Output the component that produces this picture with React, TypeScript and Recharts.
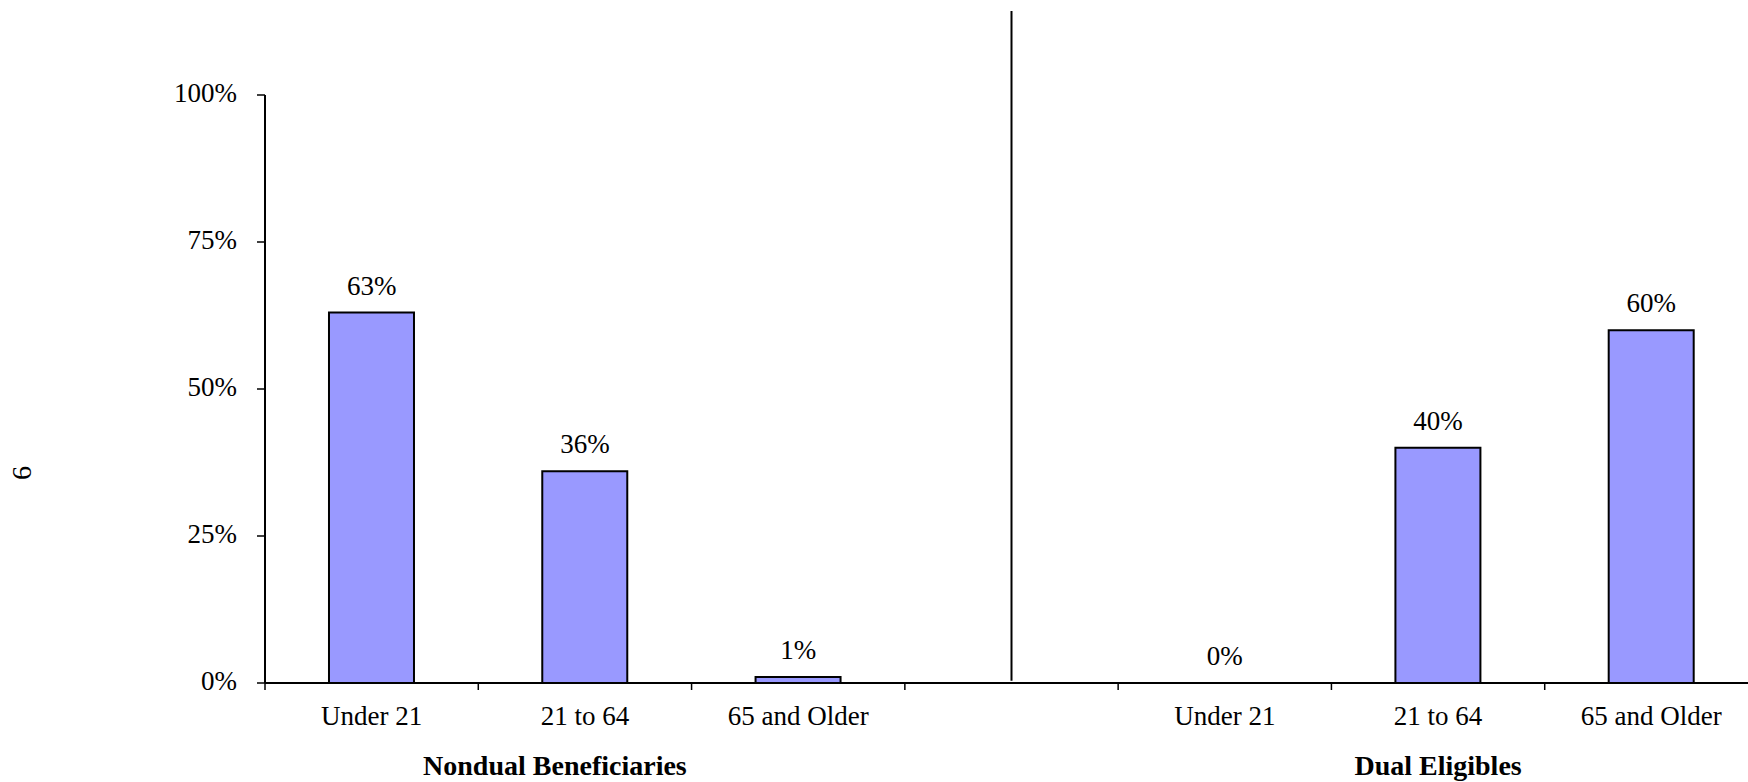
import React from "react";
import { ComposedChart, Bar, Line, XAxis, YAxis, LabelList, ReferenceLine } from "recharts";

const categoryIds = ["nd_u21", "nd_21_64", "nd_65", "gap", "de_u21", "de_21_64", "de_65"];
const categoryLabels = ["Under 21", "21 to 64", "65 and Older", "", "Under 21", "21 to 64", "65 and Older"];
const shareValues: (number | null)[] = [0.63, 0.36, 0.01, null, 0.0, 0.4, 0.6];
const yTicks = [0, 0.25, 0.5, 0.75, 1];
const groupLabelAt = ["nd_21_64", "de_21_64"];
const groupLabelText = ["Nondual Beneficiaries", "Dual Eligibles"];
const groupLabelShift = [-30, 0];
const dividerCategory = "gap";
const dividerTop = 1.143;
const dividerBottom = 0.004;
const pageNumber = "6";

const data = categoryIds.map((id, i) => ({ id, share: shareValues[i] }));

const FONT = "Liberation Serif";
const TICK_SIZE = 7;
const pct = (v: number) => `${Math.round(v * 100)}%`;

const XTick = (props: any) => {
  const { x, y, payload } = props;
  const idx = categoryIds.indexOf(payload.value);
  const half = payload.offset ?? 0;
  const g = groupLabelAt.indexOf(payload.value);
  return (
    <g>
      <line x1={x - half} x2={x - half} y1={y - TICK_SIZE} y2={y} stroke="#000" strokeWidth={1.5} />
      <text x={x} y={y + 35} textAnchor="middle" fontFamily={FONT} fontSize={27} fill="#000">
        {categoryLabels[idx]}
      </text>
      {g >= 0 && (
        <text x={x + groupLabelShift[g]} y={y + 85} textAnchor="middle" fontFamily={FONT} fontSize={28} fontWeight="bold" fill="#000">
          {groupLabelText[g]}
        </text>
      )}
    </g>
  );
};

const YTick = (props: any) => {
  const { x, y, payload } = props;
  return (
    <text x={x} y={y} dy={7} textAnchor="end" fontFamily={FONT} fontSize={27} fill="#000">
      {pct(payload.value)}
    </text>
  );
};

const ValueLabel = (props: any) => {
  const { x, y, value } = props;
  if (value == null || x == null || y == null) return null;
  return (
    <text x={x} y={y - 18} textAnchor="middle" fontFamily={FONT} fontSize={27} fill="#000">
      {pct(value)}
    </text>
  );
};

export default function App() {
  return (
    <div style={{ position: "absolute", left: 0, top: 0, width: 1748, height: 782, overflow: "hidden", background: "#fff", fontFamily: FONT }}>
      <div
        style={{
          position: "absolute",
          left: 7,
          top: 458,
          width: 30,
          height: 30,
          lineHeight: "30px",
          textAlign: "center",
          fontFamily: FONT,
          fontSize: 28,
          transform: "rotate(-90deg)",
          color: "#000",
        }}
      >
        {pageNumber}
      </div>
      <ComposedChart
        width={1760}
        height={782}
        data={data}
        margin={{ top: 95, right: 2, bottom: 0, left: 0 }}
        barCategoryGap="30%"
      >
        <XAxis
          dataKey="id"
          type="category"
          interval={0}
          height={99}
          tickLine={false}
          tickSize={TICK_SIZE}
          tickMargin={0}
          axisLine={{ stroke: "#000", strokeWidth: 2 }}
          tick={<XTick />}
        />
        <YAxis
          type="number"
          domain={[0, 1]}
          ticks={yTicks}
          width={265}
          tickSize={8}
          tickMargin={20}
          tickLine={{ stroke: "#000", strokeWidth: 1.5 }}
          axisLine={{ stroke: "#000", strokeWidth: 2 }}
          tick={<YTick />}
        />
        <ReferenceLine
          segment={[
            { x: dividerCategory, y: dividerTop },
            { x: dividerCategory, y: dividerBottom },
          ]}
          ifOverflow="visible"
          stroke="#000"
          strokeWidth={2}
        />
        <Bar dataKey="share" fill="#9999FF" stroke="#000" strokeWidth={2} isAnimationActive={false} />
        <Line
          dataKey="share"
          stroke="none"
          dot={false}
          activeDot={false}
          legendType="none"
          isAnimationActive={false}
        >
          <LabelList dataKey="share" content={<ValueLabel />} />
        </Line>
      </ComposedChart>
    </div>
  );
}
